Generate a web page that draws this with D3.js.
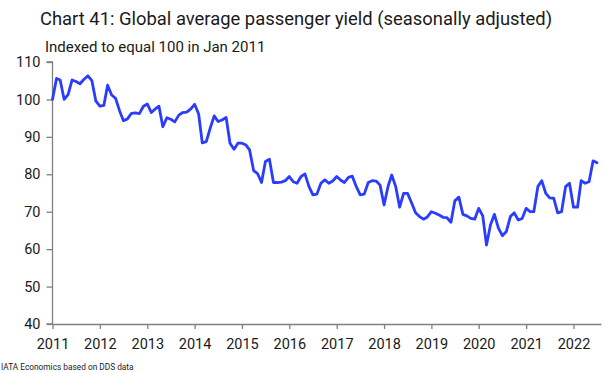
<!DOCTYPE html>
<html>
<head>
<meta charset="utf-8">
<script src="https://cdn.jsdelivr.net/npm/d3@7"></script>
<style>
    body { margin: 0; background: #fff; }
    text { font-family: Roboto, "Liberation Sans", Arial, sans-serif; fill: #1a1a1a; }
</style>
</head>
<body>
<div id="chart"></div>
<script>
///////////////////////////////////////////////////////////////////////////
///////////////////////////////// Data ////////////////////////////////////
///////////////////////////////////////////////////////////////////////////
var startMonth = "2011-01";
// monthly index, Jan 2011 = 100
var yieldValues = [
    100, 105.6, 105.2, 100, 101.3, 105.2, 104.8, 104.2, 105.4, 106.3, 105, 99.6,
    98.2, 98.4, 103.8, 101.2, 100.3, 97, 94.3, 94.8, 96.3, 96.4, 96.2, 98.1,
    98.8, 96.5, 97.4, 98.2, 92.7, 95.1, 94.7, 94, 95.8, 96.5, 96.6, 97.4,
    98.7, 96.1, 88.4, 88.7, 92.3, 95.6, 94.1, 94.5, 95.2, 88.3, 86.7, 88.3,
    88.3, 87.8, 86.5, 81, 80.2, 77.8, 83.4, 84, 77.8, 77.8, 77.9, 78.3,
    79.4, 78, 77.6, 79.4, 80.1, 76.7, 74.5, 74.7, 77.6, 78.5, 77.6, 78.2,
    79.4, 78.4, 77.8, 79.2, 79.5, 76.7, 74.5, 74.7, 77.8, 78.3, 78.2, 77.1,
    71.8, 76.8, 79.8, 76.7, 71.2, 74.9, 74.9, 72.4, 69.7, 68.7, 68, 68.6,
    70, 69.6, 69.1, 68.5, 68.4, 67.2, 72.9, 73.9, 69.3, 68.9, 68.2, 68,
    70.9, 68.9, 61.1, 66.5, 69.3, 65.6, 63.6, 64.7, 68.7, 69.7, 67.8, 68.2,
    70.9, 70, 70, 76.7, 78.3, 74.9, 73.7, 73.6, 69.7, 70, 76.7, 77.6,
    71.2, 71.2, 78.3, 77.6, 78, 83.6, 83.1
];
var yTicks = [40, 50, 60, 70, 80, 90, 100, 110];
var xTickYears = [2011, 2012, 2013, 2014, 2015, 2016, 2017, 2018, 2019, 2020, 2021, 2022];

var titleText = "Chart 41: Global average passenger yield (seasonally adjusted)";
var subtitleText = "Indexed to equal 100 in Jan 2011";
var sourceText = "IATA Economics based on DDS data";

///////////////////////////////////////////////////////////////////////////
//////////////////////////////// Setup ////////////////////////////////////
///////////////////////////////////////////////////////////////////////////
var width = 603,
    height = 373;

var parseMonth = d3.timeParse("%Y-%m");
var t0 = parseMonth(startMonth);

var data = yieldValues.map(function (v, i) {
    return {date: d3.timeMonth.offset(t0, i), value: v};
});

var svg = d3.select("#chart").append("svg")
    .attr("width", width)
    .attr("height", height);

var x = d3.scaleTime()
    .domain([t0, parseMonth("2022-08")])
    .range([52.5, 601]);

var y = d3.scaleLinear()
    .domain([40, 110])
    .range([324, 62]);

var axisColor = "#808080";

//Titles
svg.append("text")
    .attr("x", 40)
    .attr("y", 25)
    .style("font-size", "18.4px")
    .text(titleText);

svg.append("text")
    .attr("x", 45)
    .attr("y", 52)
    .style("font-size", "15px")
    .text(subtitleText);

svg.append("text")
    .attr("x", 1)
    .attr("y", 370)
    .style("font-size", "8.3px")
    .text(sourceText);

//Y axis
var yAxis = svg.append("g")
    .attr("transform", "translate(" + 52.5 + ",0)")
    .call(d3.axisLeft(y).tickValues(yTicks).tickSize(6).tickPadding(6));

//X axis
var xAxis = svg.append("g")
    .attr("transform", "translate(0," + 324 + ")")
    .call(d3.axisBottom(x)
        .tickValues(xTickYears.map(function (yr) { return new Date(yr, 0, 1); }))
        .tickFormat(d3.timeFormat("%Y"))
        .tickSize(5).tickPadding(10)
        .tickSizeOuter(0));

[yAxis, xAxis].forEach(function (ax) {
    ax.select(".domain").attr("stroke", axisColor).attr("stroke-width", 1.3);
    ax.selectAll(".tick line").attr("stroke", axisColor).attr("stroke-width", 1.3);
    ax.selectAll(".tick text")
        .style("font-size", "14.5px")
        .style("font-family", "Roboto, 'Liberation Sans', Arial, sans-serif")
        .attr("fill", "#1a1a1a");
});
yAxis.select(".domain").attr("d", "M-6,324H0V62H-6");

//The line
var line = d3.line()
    .x(function (d) { return x(d.date); })
    .y(function (d) { return y(d.value); });

svg.append("path")
    .datum(data)
    .attr("fill", "none")
    .attr("stroke", "#2a3cff")
    .attr("stroke-width", 2.8)
    .attr("stroke-linejoin", "round")
    .attr("stroke-linecap", "round")
    .attr("d", line);
</script>
</body>
</html>
